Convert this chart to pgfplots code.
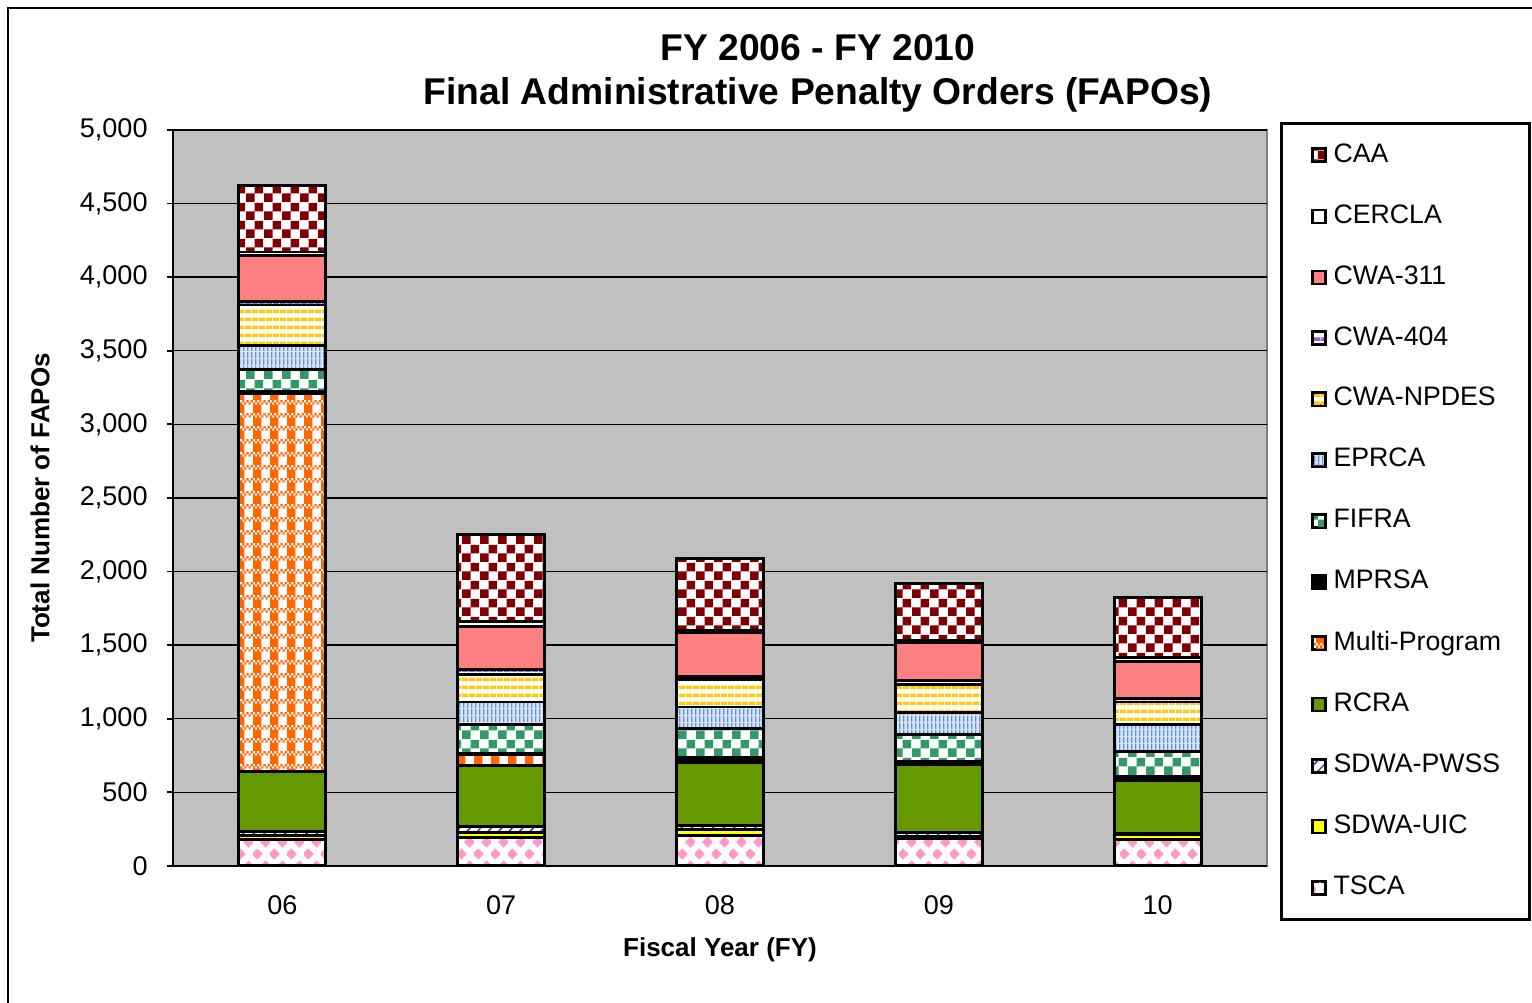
\documentclass[border=0pt]{standalone}
\usepackage{fontspec}
\setmainfont{Liberation Sans}
\usepackage{pgfplots}
\usepackage{pgfplotstable}
\pgfplotsset{compat=1.18}
\usetikzlibrary{patterns}

\definecolor{caared}{HTML}{800000}
\definecolor{cwaA}{HTML}{FF8080}
\definecolor{cwaB}{HTML}{9966CC}
\definecolor{npdes}{HTML}{FFCC00}
\definecolor{eprca}{HTML}{5B8FDF}
\definecolor{eprcabg}{HTML}{DCE6F8}
\definecolor{fifra}{HTML}{339966}
\definecolor{multi}{HTML}{FF6600}
\definecolor{rcra}{HTML}{669900}
\definecolor{uic}{HTML}{FFFF00}
\definecolor{tsca}{HTML}{FF99CC}
\definecolor{pwss}{HTML}{333399}
\definecolor{bggray}{HTML}{C0C0C0}

\pgfdeclarepatternformonly{checkA}{\pgfpointorigin}{\pgfqpoint{5pt}{5pt}}{\pgfqpoint{5pt}{5pt}}{%
  \pgfpathrectangle{\pgfpointorigin}{\pgfqpoint{2.5pt}{2.5pt}}%
  \pgfpathrectangle{\pgfqpoint{2.5pt}{2.5pt}}{\pgfqpoint{2.5pt}{2.5pt}}%
  \pgfusepath{fill}}
\pgfdeclarepatternformonly{hstripes}{\pgfpointorigin}{\pgfqpoint{2pt}{2.3pt}}{\pgfqpoint{2pt}{2.3pt}}{%
  \pgfpathrectangle{\pgfpointorigin}{\pgfqpoint{2pt}{1.1pt}}%
  \pgfusepath{fill}}
\pgfdeclarepatternformonly{vstripes}{\pgfpointorigin}{\pgfqpoint{1pt}{2pt}}{\pgfqpoint{1pt}{2pt}}{%
  \pgfpathrectangle{\pgfpointorigin}{\pgfqpoint{0.45pt}{2pt}}%
  \pgfusepath{fill}}
\pgfdeclarepatternformonly{plaid}{\pgfpointorigin}{\pgfqpoint{4.8pt}{3.8pt}}{\pgfqpoint{4.8pt}{3.8pt}}{%
  \pgfpathrectangle{\pgfpointorigin}{\pgfqpoint{2.4pt}{2.5pt}}%
  \pgfpathrectangle{\pgfqpoint{0pt}{2.5pt}}{\pgfqpoint{0.6pt}{0.65pt}}%
  \pgfpathrectangle{\pgfqpoint{1.2pt}{2.5pt}}{\pgfqpoint{0.6pt}{0.65pt}}%
  \pgfpathrectangle{\pgfqpoint{2.4pt}{2.5pt}}{\pgfqpoint{0.6pt}{0.65pt}}%
  \pgfpathrectangle{\pgfqpoint{3.6pt}{2.5pt}}{\pgfqpoint{0.6pt}{0.65pt}}%
  \pgfpathrectangle{\pgfqpoint{0.6pt}{3.15pt}}{\pgfqpoint{0.6pt}{0.65pt}}%
  \pgfpathrectangle{\pgfqpoint{1.8pt}{3.15pt}}{\pgfqpoint{0.6pt}{0.65pt}}%
  \pgfpathrectangle{\pgfqpoint{3.0pt}{3.15pt}}{\pgfqpoint{0.6pt}{0.65pt}}%
  \pgfpathrectangle{\pgfqpoint{4.2pt}{3.15pt}}{\pgfqpoint{0.6pt}{0.65pt}}%
  \pgfusepath{fill}}
\pgfdeclarepatternformonly{diamonds}{\pgfpointorigin}{\pgfqpoint{4.8pt}{6.8pt}}{\pgfqpoint{4.8pt}{6.8pt}}{%
  \pgfpathmoveto{\pgfqpoint{1.2pt}{0.1pt}}\pgfpathlineto{\pgfqpoint{2.8pt}{1.7pt}}%
  \pgfpathlineto{\pgfqpoint{1.2pt}{3.3pt}}\pgfpathlineto{\pgfqpoint{-0.4pt}{1.7pt}}\pgfpathclose
  \pgfpathmoveto{\pgfqpoint{3.6pt}{3.5pt}}\pgfpathlineto{\pgfqpoint{5.2pt}{5.1pt}}%
  \pgfpathlineto{\pgfqpoint{3.6pt}{6.7pt}}\pgfpathlineto{\pgfqpoint{2.0pt}{5.1pt}}\pgfpathclose
  \pgfusepath{fill}}

\pgfplotstableread{
x TSCA UIC PWSS RCRA Multi MPRSA FIFRA EPRCA NPDES CB CA CERCLA CAA
0 177 33 25 404 2571 10 156 157 278 27 306 27 455
1 195 35 35 420 70 6 197 156 190 34 286 34 597
2 205 40 30 430 20 15 191 149 184 20 299 20 483
3 185 15 25 462 10 10 183 151 189 27 258 20 381
4 177 35 12 358 10 13 176 177 156 27 245 27 414
}\datatable

\newcommand\legtxt[1]{\makebox[15.9mm][l]{#1}}

\begin{document}
\begin{tikzpicture}
\useasboundingbox (-17.3mm,-13.7mm) rectangle (135.9mm,86.6mm);
\begin{axis}[
  at={(0,0)}, anchor=south west,
  scale only axis, width=109.4mm, height=73.6mm,
  ybar stacked, bar width=8.7mm,
  xmin=-0.5, xmax=4.5, ymin=0, ymax=5000,
  xtick={0,1,2,3,4}, xticklabels={06,07,08,09,10},
  ytick={0,500,...,5000},
  axis x line*=bottom, axis y line*=left,
  axis line style={black, line width=0.6pt},
  axis background/.style={fill=bggray, draw=gray, line width=0.6pt},
  ymajorgrids, major grid style={black, line width=0.4pt},
  xtick style={draw=none},
  ytick style={black, line width=0.5pt},
  tick align=outside, major tick length=0.6mm,
  /pgf/number format/assume math mode=true,
  /pgf/number format/1000 sep={,},
  tick label style={font=\fontsize{7.7}{9}\selectfont},
  yticklabel style={xshift=-0.7mm},
  xticklabel style={yshift=-1.1mm},
  xlabel={Fiscal Year (FY)}, ylabel={Total Number of FAPOs},
  label style={font=\fontsize{7.4}{9}\selectfont\bfseries},
  xlabel style={at={(axis description cs:0.5,-0.114)}, anchor=center},
  ylabel style={at={(axis description cs:-0.1216,0.5)}, anchor=center},
  reverse legend,
  legend cell align=left,
  legend style={at={(axis description cs:1,1)}, anchor=north west, xshift=1.3mm, yshift=0.8mm,
     draw=black, line width=0.8pt, fill=white, font=\fontsize{7.6}{9}\selectfont,
     row sep=2.3mm, inner xsep=3.0mm, inner ysep=1.3mm},
  bs/.style={draw=black, line width=0.85pt,
     legend image code/.code={\draw[##1, line width=0.6pt] (0mm,-0.65mm) rectangle (1.3mm,0.65mm);}},
]
\addplot[bs, pattern=diamonds, pattern color=tsca, preaction={fill=white}] table[x=x,y=TSCA]{\datatable};
\addlegendentry{\legtxt{TSCA}}
\addplot[bs, fill=uic] table[x=x,y=UIC]{\datatable};
\addlegendentry{\legtxt{SDWA-UIC}}
\addplot[bs, pattern=north east lines, pattern color=pwss, preaction={fill=white}] table[x=x,y=PWSS]{\datatable};
\addlegendentry{\legtxt{SDWA-PWSS}}
\addplot[bs, fill=rcra] table[x=x,y=RCRA]{\datatable};
\addlegendentry{\legtxt{RCRA}}
\addplot[bs, pattern=plaid, pattern color=multi, preaction={fill=white}] table[x=x,y=Multi]{\datatable};
\addlegendentry{\legtxt{Multi-Program}}
\addplot[bs, fill=black] table[x=x,y=MPRSA]{\datatable};
\addlegendentry{\legtxt{MPRSA}}
\addplot[bs, pattern=checkA, pattern color=fifra, preaction={fill=white}] table[x=x,y=FIFRA]{\datatable};
\addlegendentry{\legtxt{FIFRA}}
\addplot[bs, pattern=vstripes, pattern color=eprca, preaction={fill=eprcabg}] table[x=x,y=EPRCA]{\datatable};
\addlegendentry{\legtxt{EPRCA}}
\addplot[bs, pattern=hstripes, pattern color=npdes, preaction={fill=white}] table[x=x,y=NPDES]{\datatable};
\addlegendentry{\legtxt{CWA-NPDES}}
\addplot[bs, pattern=hstripes, pattern color=cwaB, preaction={fill=white}] table[x=x,y=CB]{\datatable};
\addlegendentry{\legtxt{CWA-404}}
\addplot[bs, fill=cwaA] table[x=x,y=CA]{\datatable};
\addlegendentry{\legtxt{CWA-311}}
\addplot[bs, fill=white] table[x=x,y=CERCLA]{\datatable};
\addlegendentry{\legtxt{CERCLA}}
\addplot[bs, pattern=checkA, pattern color=caared, preaction={fill=white}] table[x=x,y=CAA]{\datatable};
\addlegendentry{\legtxt{CAA}}
\end{axis}
\draw[line width=0.6pt] (-16.5mm,-15mm) -- (-16.5mm,85.8mm) -- (137mm,85.8mm);
\node[font=\fontsize{10.6}{12.4}\selectfont\bfseries, align=center] at (64.5mm,79.25mm)
  {FY 2006 - FY 2010\\Final Administrative Penalty Orders (FAPOs)};
\end{tikzpicture}
\end{document}
